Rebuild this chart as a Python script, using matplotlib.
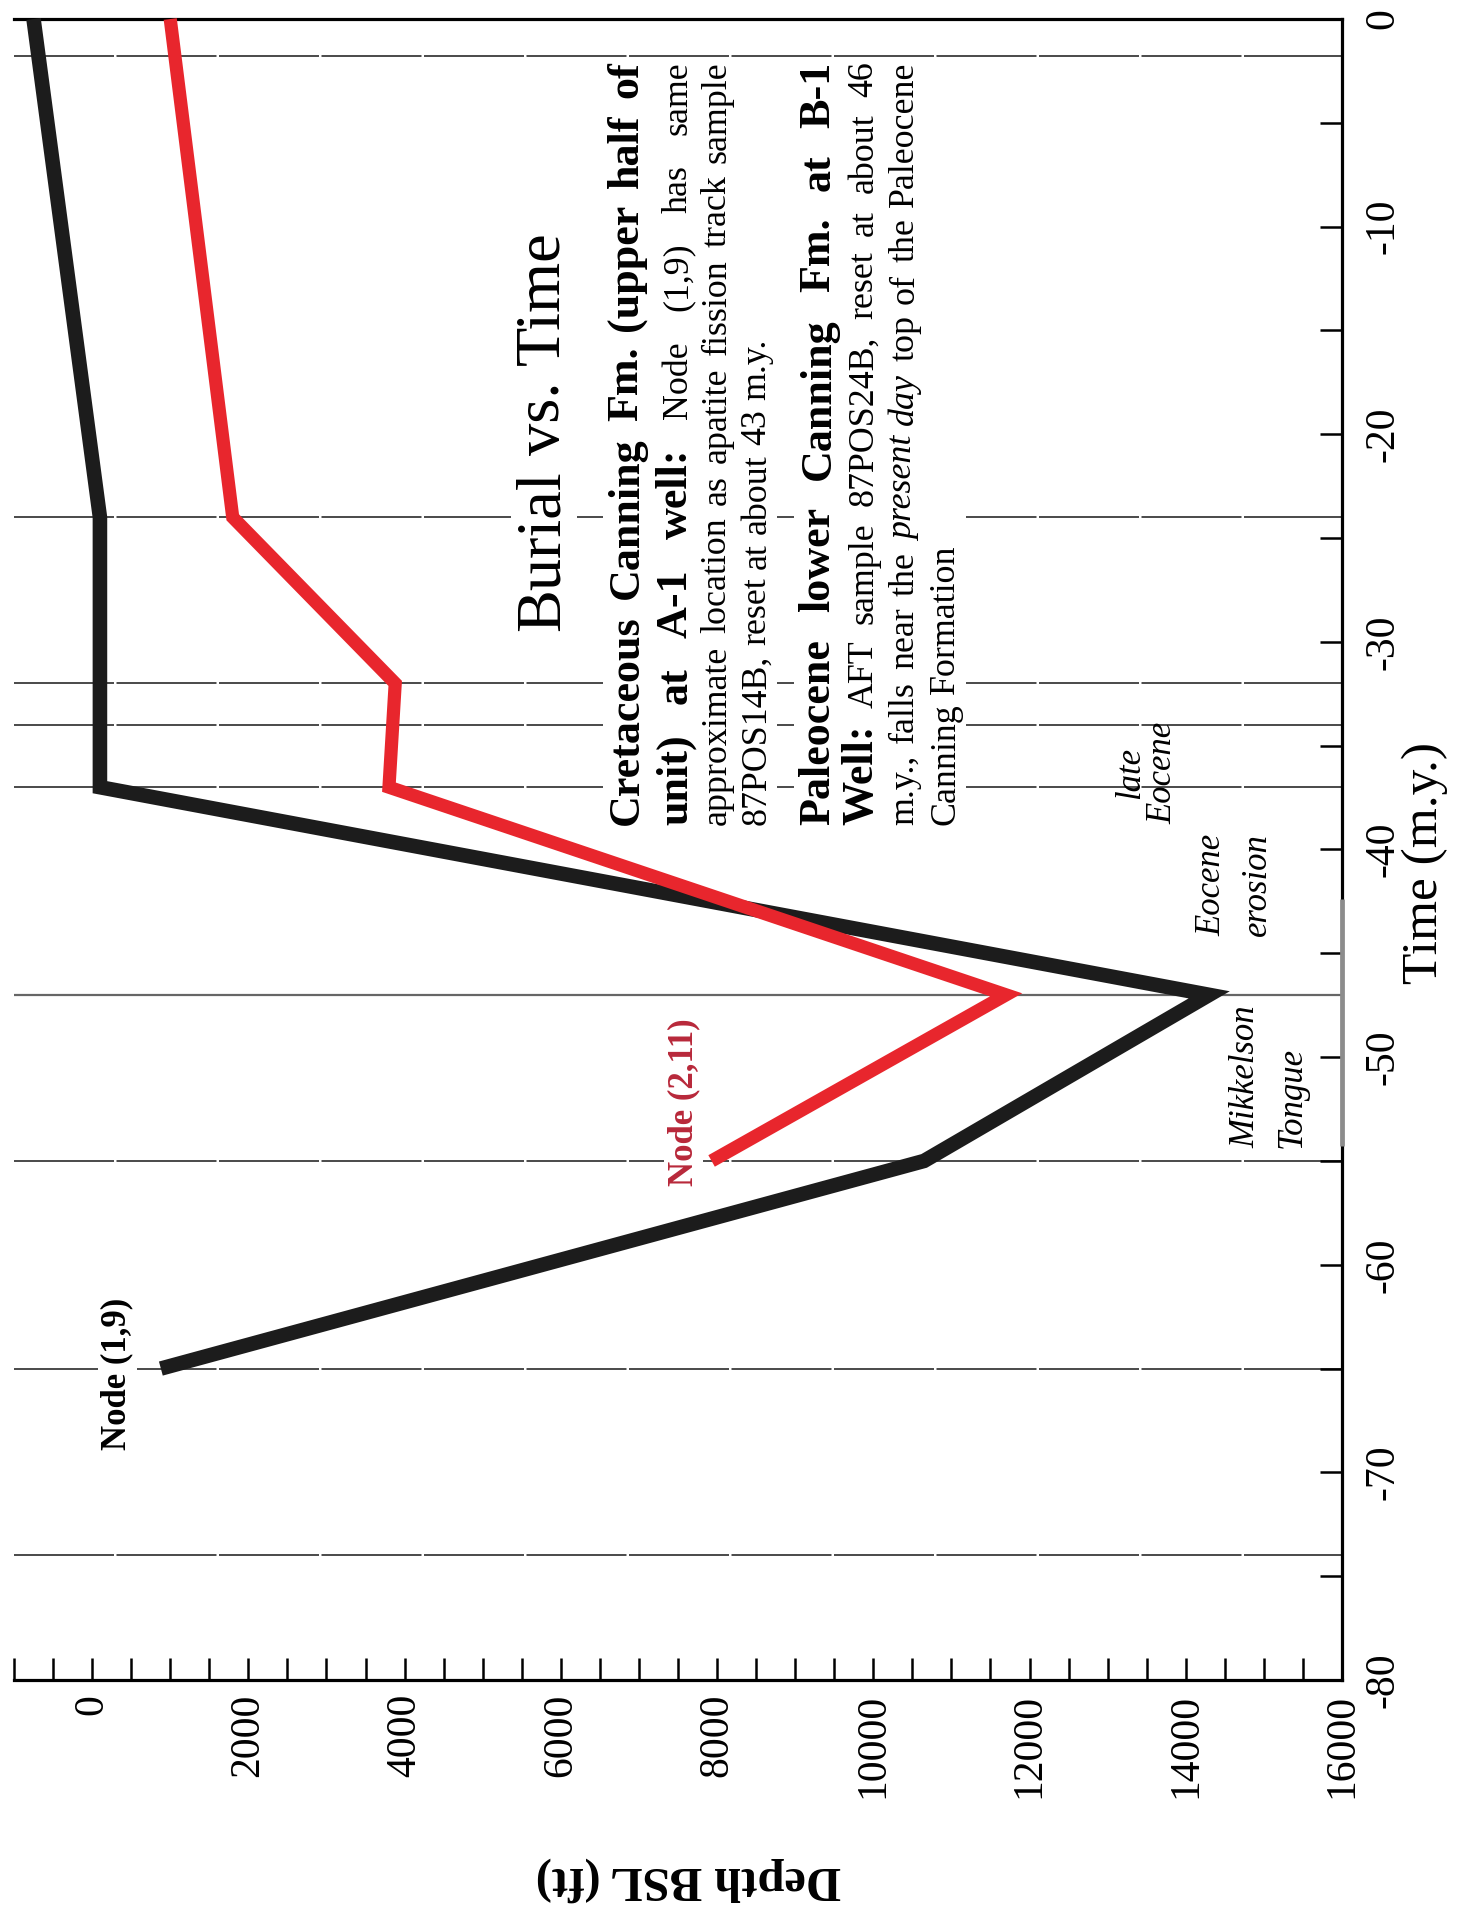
"""
Burial vs. Time plot for nodes (1,9) and (2,11), drawn rotated
(time axis on the right, depth axis along the bottom) like the source figure.
"""
import matplotlib
matplotlib.use("Agg")
import matplotlib.pyplot as plt
import numpy as np
from matplotlib.font_manager import FontProperties
from matplotlib.patches import Rectangle
from matplotlib.transforms import Bbox

W, H, DPI = 1474, 1926, 100
SERIF = "Liberation Serif"

# burial curves (time in m.y., depth BSL in ft)
node19_time = [-65, -55, -47, -37, -24, 0]
node19_depth = [880, 10650, 14300, 100, 100, -750]
node211_time = [-55, -47, -37, -32, -24, 0]
node211_depth = [7930, 11700, 3800, 3880, 1800, 1000]

# event lines
event_times = [-1.8, -24, -32, -34, -37, -55, -65, -74]
peak_time = -47

depth_major = np.arange(0, 16001, 2000)
depth_minor = np.arange(-1000, 16001, 500)
time_major = np.arange(-80, 1, 10)
time_minor = np.arange(-80, 1, 5)

plt.rcParams["font.family"] = SERIF
plt.rcParams["axes.unicode_minus"] = False

fig = plt.figure(figsize=(W / DPI, H / DPI), dpi=DPI)
ax = fig.add_axes([14 / W, 1 - 1680 / H, (1342 - 14) / W, (1680 - 19) / H])
ax.set_xlim(-1000, 16000)
ax.set_ylim(-80, 0)

for side in ("top", "right", "bottom"):
    ax.spines[side].set_linewidth(2.3)
ax.spines["left"].set_visible(False)

ax.set_xticks(depth_major)
ax.set_xticklabels([str(v) for v in depth_major])
ax.set_xticks(depth_minor, minor=True)
ax.yaxis.tick_right()
ax.set_yticks(time_major)
ax.set_yticklabels([str(v) for v in time_major])
ax.set_yticks(time_minor, minor=True)
ax.tick_params(axis="x", which="both", direction="in", length=16, width=1.8,
               labelsize=30, labelrotation=90, pad=10)
ax.tick_params(axis="y", which="both", direction="in", length=16, width=1.8,
               labelsize=30, labelrotation=90, pad=16, left=False, right=True)
for lab in ax.get_yticklabels():
    lab.set_va("center")

for t in event_times:
    ax.axhline(t, color="#2b2b2b", lw=1.2, ls=(0, (60, 1.5)), zorder=1)
ax.axhline(peak_time, color="#666666", lw=1.6, zorder=1)

# patched-in segment of the time axis
ax.plot([16000, 16000], [-42.4, -54.3], color="#8c8c8c", lw=3.4,
        solid_capstyle="butt", clip_on=False, zorder=6)

ax.plot(node19_depth, node19_time, color="#1c1c1c", lw=10.5,
        solid_joinstyle="miter", solid_capstyle="butt", clip_on=False, zorder=3)
ax.plot(node211_depth, node211_time, color="#e8262d", lw=9.5,
        solid_joinstyle="miter", solid_capstyle="butt", clip_on=False, zorder=3.5)

# ---- rotated text ----------------------------------------------------------
renderer = fig.canvas.get_renderer()
p0 = ax.transData.transform((0, 0))
p1 = ax.transData.transform((1000, 1))
px_ft = (p1[0] - p0[0]) / 1000.0
px_my = p1[1] - p0[1]


def fp(size, weight="normal", style="normal"):
    return FontProperties(family=SERIF, size=size, weight=weight, style=style)


def width(s, prop):
    return renderer.get_text_width_height_descent(s, prop, ismath=False)[0]


def fit(s, target, weight="normal"):
    return 20 * target / width(s, fp(20, weight))


bsize = fit("Cretaceous Canning Fm. (upper half of", 740, "bold")
rsize = fit("approximate location as apatite fission track sample", 745)
tsize = fit("Burial vs. Time", 400)
fonts = {
    "b": fp(bsize, "bold"),
    "r": fp(rsize),
    "i": fp(rsize, style="italic"),
    "t": fp(tsize),
}


def draw_line(segs, depth_c, t0, length, justify, color="black"):
    tokens = [(w, k) for s, k in segs for w in s.split()]
    widths = [width(w, fonts[k]) for w, k in tokens]
    f0 = fonts[segs[0][1]]
    space = width("a a", f0) - width("aa", f0)
    gap = space
    if justify and len(tokens) > 1:
        gap = max((length - sum(widths)) / (len(tokens) - 1), 0.6 * space)
    size_px = max(fonts[k].get_size_in_points() for _, k in tokens) * DPI / 72
    base = depth_c + 0.25 * size_px / px_ft
    out, pos = [], 0.0
    for (w, k), wd in zip(tokens, widths):
        out.append(ax.text(base, t0 + pos / px_my, w, fontproperties=fonts[k],
                           rotation=90, rotation_mode="anchor", ha="left",
                           va="baseline", color=color, zorder=5))
        pos += wd + gap
    return out


def white_box(texts, padx=4, pady=2):
    bb = Bbox.union([t.get_window_extent(renderer) for t in texts])
    inv = ax.transData.inverted()
    x0, y0 = inv.transform((bb.x0 - padx, bb.y0 - pady))
    x1, y1 = inv.transform((bb.x1 + padx, bb.y1 + pady))
    ax.add_patch(Rectangle((x0, y0), x1 - x0, y1 - y0, facecolor="white",
                           edgecolor="none", zorder=2))


PARA_T0 = -38.8
PARA_LEN = 763

title = draw_line([("Burial vs. Time", "t")], 5767, -29.5, 0, False)
white_box(title)

para1 = []
para1 += draw_line([("Cretaceous Canning Fm. (upper half of", "b")], 6841, PARA_T0, PARA_LEN, True)
para1 += draw_line([("unit) at A-1 well:", "b"), ("Node (1,9) has same", "r")], 7468, PARA_T0, PARA_LEN, True)
para1 += draw_line([("approximate location as apatite fission track sample", "r")], 7992, PARA_T0, PARA_LEN, True)
para1 += draw_line([("87POS14B, reset at about 43 m.y.", "r")], 8504, PARA_T0, PARA_LEN, False)
white_box(para1)

para2 = []
para2 += draw_line([("Paleocene lower Canning Fm. at B-1", "b")], 9297, PARA_T0, PARA_LEN, True)
para2 += draw_line([("Well:", "b"), ("AFT sample 87POS24B, reset at about 46", "r")], 9847, PARA_T0, PARA_LEN, True)
para2 += draw_line([("m.y., falls near the", "r"), ("present day", "i"), ("top of the Paleocene", "r")],
                   10396, PARA_T0, PARA_LEN, True)
para2 += draw_line([("Canning Formation", "r")], 10921, PARA_T0, PARA_LEN, False)
white_box(para2)

# labels near the curves
ital = fp(25, style="italic")
node_fp = fp(25, "bold")


def label(s, depth_c, t, prop, color="black", ha="left"):
    size_px = prop.get_size_in_points() * DPI / 72
    return ax.text(depth_c + 0.25 * size_px / px_ft, t, s, fontproperties=prop,
                   rotation=90, rotation_mode="anchor", ha=ha, va="baseline",
                   color=color, zorder=5)


white_box([label("Node (1,9)", 320, -68.9, node_fp)], padx=3, pady=6)
white_box([label("Node (2,11)", 7570, -56.2, node_fp, color="#b8283a")], padx=3, pady=6)
label("late", 13287, -36.3, ital, ha="center")
label("Eocene", 13708, -36.3, ital, ha="center")
label("Eocene", 14335, -41.7, ital, ha="center")
label("erosion", 14910, -41.7, ital, ha="center")
label("Mikkelson", 14770, -54.4, ital)
label("Tongue", 15358, -54.4, ital)

fig.text(1425 / W, 1 - 863 / H, "Time (m.y.)", rotation=90, ha="center",
         va="center", fontsize=37)
fig.text(688 / W, 1 - 1879 / H, "Depth BSL (ft)", rotation=180, ha="center",
         va="center", fontsize=35, fontweight="bold")

fig.savefig("out.png", dpi=DPI)
